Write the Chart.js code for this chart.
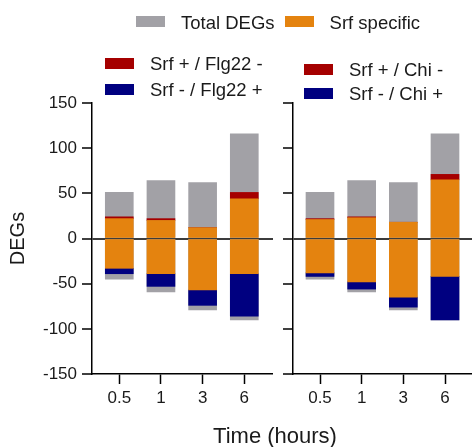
<!DOCTYPE html>
<html>
<head>
<meta charset="utf-8">
<script src="https://cdn.jsdelivr.net/npm/chart.js@4.4.1/dist/chart.umd.min.js"></script>
<style>
  body { margin: 0; background: #fff; font-family: "Liberation Sans", Arial, sans-serif; color: #1a1a1a; }
  #wrap { position: relative; width: 472px; height: 447px; overflow: hidden; }
  canvas { position: absolute; top: 0; }
  #flgChart { left: 0; }
  #chiChart { left: 280px; }
  .legend { position: absolute; font-size: 18.5px; }
  .legend .item { display: flex; align-items: center; white-space: nowrap; }
  .legend .box { width: 29px; height: 11px; flex: none; }
  .legend .txt { margin-left: 16px; position: relative; top: 1px; }
  #topLegend { left: 136px; top: 10px; display: flex; }
  #topLegend .item { height: 23px; margin-right: 10px; }
  #flgLegend { left: 105px; top: 50px; }
  #flgLegend .item { height: 26px; }
  #chiLegend { left: 304px; top: 57px; }
  #chiLegend .item { height: 24px; }
  #xTitle { position: absolute; left: 0; width: 550px; top: 423px; text-align: center; font-size: 22px; }
</style>
</head>
<body>
<div id="wrap">
  <canvas id="flgChart" width="273" height="447"></canvas>
  <canvas id="chiChart" width="192" height="447"></canvas>
  <div id="topLegend" class="legend"></div>
  <div id="flgLegend" class="legend"></div>
  <div id="chiLegend" class="legend"></div>
  <div id="xTitle">Time (hours)</div>
</div>
<script>
//------------------ Data ------------------//
const timeLabels = ['0.5', '1', '3', '6'];

// all DEGs, same for both treatments
const totalUp = [51, 64, 62, 116];
const totalDown = [-45, -59, -79, -90];

// Flg22 panel
const flgSrfUp = [22, 20, 12, 44];
const flgSrfOnly = [2, 2, 0, 7];          // Srf + / Flg22 -
const flgSrfDown = [-33, -39, -57, -39];
const flgTreatOnly = [-6, -14, -17, -47]; // Srf - / Flg22 +

// Chitin panel
const chiSrfUp = [21, 23, 18, 65];
const chiSrfOnly = [1, 1, 0, 6];          // Srf + / Chi -
const chiSrfDown = [-38, -48, -65, -42];
const chiTreatOnly = [-4, -8, -11, -48];  // Srf - / Chi +

const colors = { total: '#a2a1a6', srf: '#e4830f', up: '#a50000', down: '#000080' };

const fontFamily = '"Liberation Sans", Arial, sans-serif';

//------------------ Helpers ------------------//
function points(values) {
  return values.map((v, i) => ({ x: i, y: v }));
}

function bar(label, values, color, stack, order) {
  return {
    label,
    data: points(values),
    backgroundColor: color,
    stack,
    order,
    barThickness: 28,
    grouped: false,
    borderWidth: 0
  };
}

function makeChart(canvasId, datasets, opts) {
  const ctx = document.getElementById(canvasId).getContext('2d');
  return new Chart(ctx, {
    type: 'bar',
    data: { datasets },
    options: {
      responsive: false,
      animation: false,
      layout: { padding: { top: 103, left: 0, right: 0, bottom: 0 } },
      plugins: { legend: { display: false }, tooltip: { enabled: false } },
      scales: {
        x: {
          type: 'linear',
          stacked: true,
          offset: false,
          min: opts.xMin,
          max: opts.xMax,
          afterBuildTicks: scale => { scale.ticks = timeLabels.map((_, i) => ({ value: i })); },
          afterFit: scale => { scale.height = 73; },
          ticks: {
            callback: v => timeLabels[v],
            color: '#1a1a1a',
            font: { family: fontFamily, size: 17 },
            padding: 4,
            maxRotation: 0
          },
          grid: { offset: false, drawOnChartArea: false, tickLength: 10, tickColor: '#000', tickWidth: 1.5 },
          border: { color: '#000', width: 1.5 }
        },
        y: {
          stacked: true,
          min: -150,
          max: 150,
          z: 1,
          afterFit: scale => { scale.width = opts.yWidth; },
          ticks: {
            stepSize: 50,
            display: opts.showYLabels,
            color: '#1a1a1a',
            font: { family: fontFamily, size: 17 },
            padding: 5
          },
          // only the zero line is drawn across the plot, on top of the bars
          grid: {
            color: c => (c.tick && c.tick.value === 0) ? '#3c3c3c' : 'rgba(0,0,0,0)',
            lineWidth: 2,
            tickLength: 10,
            tickColor: '#000',
            tickWidth: 1.5
          },
          border: { color: '#000', width: 1.5 },
          title: {
            display: opts.showYLabels,
            text: 'DEGs',
            color: '#1a1a1a',
            font: { family: fontFamily, size: 20 },
            padding: { top: 6, bottom: 0 }
          }
        }
      }
    }
  });
}

//------------------ Charts ------------------//
const flgSets = [
  bar('Total DEGs', totalUp, colors.total, 'total', 2),
  bar('Total DEGs', totalDown, colors.total, 'total', 2),
  bar('Srf specific', flgSrfUp, colors.srf, 'srf', 1),
  bar('Srf + / Flg22 -', flgSrfOnly, colors.up, 'srf', 1),
  bar('Srf specific', flgSrfDown, colors.srf, 'srf', 1),
  bar('Srf - / Flg22 +', flgTreatOnly, colors.down, 'srf', 1)
];

const chiSets = [
  bar('Total DEGs', totalUp, colors.total, 'total', 2),
  bar('Total DEGs', totalDown, colors.total, 'total', 2),
  bar('Srf specific', chiSrfUp, colors.srf, 'srf', 1),
  bar('Srf + / Chi -', chiSrfOnly, colors.up, 'srf', 1),
  bar('Srf specific', chiSrfDown, colors.srf, 'srf', 1),
  bar('Srf - / Chi +', chiTreatOnly, colors.down, 'srf', 1)
];

makeChart('flgChart', flgSets, { xMin: -0.655, xMax: 3.689, yWidth: 92, showYLabels: true });
makeChart('chiChart', chiSets, { xMin: -0.648, xMax: 3.648, yWidth: 13, showYLabels: false });

//------------------ Legends ------------------//
function makeLegend(id, items) {
  const div = document.getElementById(id);
  items.forEach(it => {
    const row = document.createElement('div');
    row.className = 'item';
    row.innerHTML = `<span class="box" style="background:${it.backgroundColor}"></span><span class="txt">${it.label}</span>`;
    div.appendChild(row);
  });
}

makeLegend('topLegend', [flgSets[0], flgSets[2]]);
makeLegend('flgLegend', [flgSets[3], flgSets[5]]);
makeLegend('chiLegend', [chiSets[3], chiSets[5]]);
</script>
</body>
</html>
